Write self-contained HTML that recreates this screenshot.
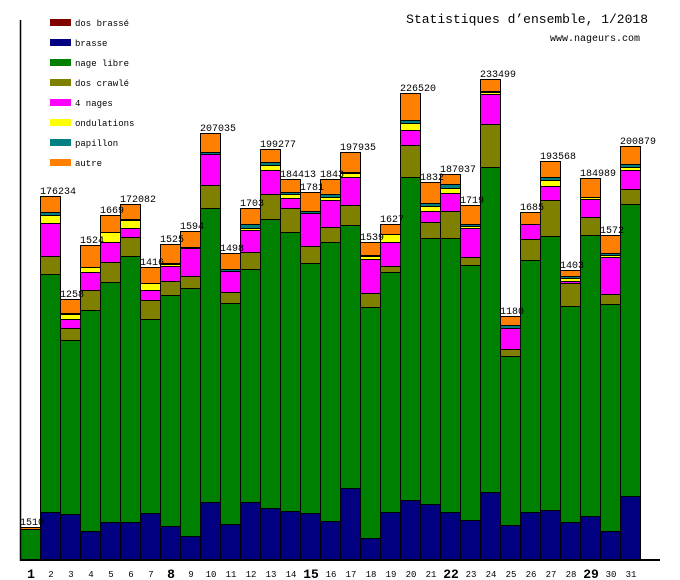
<!DOCTYPE html>
<html><head><meta charset="utf-8">
<style>
html,body{margin:0;padding:0;background:#fff;}
svg{display:block;font-family:"Liberation Mono","DejaVu Sans Mono",monospace;}
</style></head>
<body>
<svg id="chart" width="680" height="580" viewBox="0 0 680 580" xmlns="http://www.w3.org/2000/svg">
<text x="648" y="23" text-anchor="end" font-size="13">Statistiques d’ensemble, 1/2018</text>
<text x="640" y="41" text-anchor="end" font-size="10">www.nageurs.com</text>
<g id="legend"></g>
<g id="bars"></g>
<g id="labels"></g>
<g id="xticks"></g>
<line x1="20.5" y1="20" x2="20.5" y2="561" stroke="#000" stroke-width="1.5"/>
<line x1="20" y1="560" x2="660" y2="560" stroke="#000" stroke-width="2"/>
</svg>
<script>
const days = [1,2,3,4,5,6,7,8,9,10,11,12,13,14,15,16,17,18,19,20,21,22,23,24,25,26,27,28,29,30,31];
const mondays = [1,8,15,22,29];
const seriesNames = ["dos brassé","brasse","nage libre","dos crawlé","4 nages","ondulations","papillon","autre"];
const seriesColors = ["#800000","#000080","#008000","#808000","#ff00ff","#ffff00","#008080","#ff8000"];
const dosBrasse   = [0,0,0,0,0,0,0,0,0,0,0,0,0,0,0,0,1,0,0,0,0,1,0,0,0,1,0,0,0,0,0];
const brasse      = [0,48,46,29,38,38,47,34,24,58,36,58,52,49,47,39,71,22,48,60,56,47,40,68,35,47,50,38,44,29,64];
const nageLibre   = [31,238,174,221,240,266,194,231,248,294,221,233,289,279,250,279,263,231,240,323,266,274,255,325,169,252,274,216,281,227,292];
const dosCrawle   = [0,18,12,20,20,19,19,14,12,23,11,17,25,24,17,15,20,14,6,32,16,27,8,43,7,21,36,23,18,10,15];
const quatreNages = [0,33,9,18,20,9,10,15,28,31,21,22,24,10,33,27,28,34,24,15,11,18,29,30,21,15,14,2,18,37,19];
const ondulations = [0,8,5,5,10,8,7,2,0,0,0,2,5,4,0,3,4,3,8,7,5,5,2,2,0,0,6,3,2,2,3];
const papillon    = [0,3,1,0,0,1,0,1,1,2,2,4,3,2,2,3,1,1,0,3,3,4,2,1,3,0,3,2,0,2,3];
const autre       = [2,16,14,22,17,15,16,19,16,19,16,16,13,13,19,15,20,13,10,27,21,10,19,12,9,12,16,6,19,18,18];
const totalLabels = ["1510","176234","1258","1524","1669","172082","1416","1525","1594","207035","1498","1703","199277","184413","1781","1843","197935","1539","1627","226520","1832","187037","1719","233499","1180","1685","193568","1403","184989","1572","200879"];

const NS="http://www.w3.org/2000/svg";
const series=[dosBrasse,brasse,nageLibre,dosCrawle,quatreNages,ondulations,papillon,autre];
const seriesKeys=["dos-brasse","brasse","nage-libre","dos-crawle","4-nages","ondulations","papillon","autre"];
const baseY=560, pxPerUnit=1, x0=20, barW=20;
function yScale(v){return baseY - v*pxPerUnit;}
function xScale(i){return x0 + i*barW;}

const leg=document.getElementById('legend');
seriesNames.forEach((n,k)=>{
  const g=document.createElementNS(NS,'g');
  
  
  const r=document.createElementNS(NS,'rect');
  r.setAttribute('x',50);r.setAttribute('y',19+k*20);r.setAttribute('width',21);r.setAttribute('height',7);
  r.setAttribute('fill',seriesColors[k]);
  
  
  const t=document.createElementNS(NS,'text');
  t.setAttribute('x',75);t.setAttribute('y',26+k*20);t.setAttribute('font-size','9');
  t.textContent=n;
  
  
  g.appendChild(r);g.appendChild(t);leg.appendChild(g);
});

const bars=document.getElementById('bars'), labels=document.getElementById('labels'), xt=document.getElementById('xticks');
days.forEach((d,i)=>{
  let cum=0;
  const x=xScale(i);
  series.forEach((s,k)=>{
    const v=s[i]; if(!v) return;
    const y1=yScale(cum), y2=yScale(cum+v);
    cum+=v;
    const r=document.createElementNS(NS,'rect');
    r.setAttribute('x',x+0.5);r.setAttribute('y',y2+0.5);
    r.setAttribute('width',barW);r.setAttribute('height',Math.max(0,y1-y2));
    r.setAttribute('fill',seriesColors[k]);r.setAttribute('stroke','#000');r.setAttribute('stroke-width','1');
    
    
    bars.appendChild(r);
  });
  const t=document.createElementNS(NS,'text');
  t.setAttribute('x',x);t.setAttribute('y',yScale(cum)-2);t.setAttribute('font-size','10');
  t.textContent=totalLabels[i];
  
  
  labels.appendChild(t);
  const m=mondays.includes(d);
  const tx=document.createElementNS(NS,'text');
  tx.setAttribute('x',x+barW/2+1);tx.setAttribute('y',m?578:577);tx.setAttribute('text-anchor','middle');
  tx.setAttribute('font-size',m?'13':'9');
  if(m) tx.setAttribute('font-weight','bold');
  tx.textContent=d;
  
  
  xt.appendChild(tx);
});
</script>
</body></html>
